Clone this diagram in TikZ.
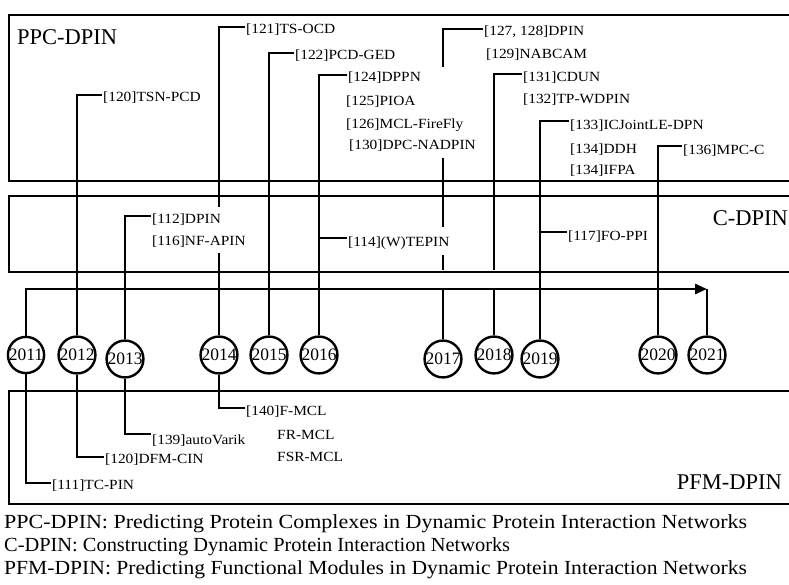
\documentclass[tikz,border=0pt]{standalone}
\usepackage{fontspec}
\usepackage{graphicx}
\setmainfont{Liberation Serif}
\usetikzlibrary{arrows.meta}
\newcommand{\lbx}[1]{\scalebox{1.1}[1]{#1}}
\newcommand{\lgx}[2]{\scalebox{#1}[1]{#2}}
\begin{document}
\begin{tikzpicture}[x=1pt,y=-1pt,
  ln/.style={line width=2.8pt},
  thinln/.style={line width=2pt},
  boxln/.style={line width=2.8pt},
  yr/.style={circle,draw,line width=2.4pt,minimum size=36pt,inner sep=0pt,font=\fontsize{17.5}{17.5}\selectfont},
  lab/.style={anchor=west,inner sep=1pt,font=\fontsize{14}{16}\selectfont},
  reg/.style={inner sep=0pt,font=\fontsize{22.5}{24}\selectfont},
  leg/.style={anchor=west,inner sep=0pt,font=\fontsize{20}{22}\selectfont}]
\useasboundingbox (0,0) rectangle (789,585);

% region boxes (open at the right, clipped by the page)
\draw[boxln] (800,15) -- (9,15) -- (9,181) -- (800,181);
\draw[boxln] (800,196) -- (9,196) -- (9,272) -- (800,272);
\draw[boxln] (800,391) -- (9,391) -- (9,504) -- (800,504);

\node[reg,anchor=west] (rppc) at (17,37) {PPC-DPIN};
\node[reg,anchor=east] (rc) at (788,218) {C-DPIN};
\node[reg,anchor=east] (rpfm) at (782,482) {PFM-DPIN};

% year circles
\node[yr] (y2011) at (26,355) {2011};
\node[yr] (y2012) at (77,355) {2012};
\node[yr] (y2013) at (125,359) {2013};
\node[yr] (y2014) at (219,355) {2014};
\node[yr] (y2015) at (269,355) {2015};
\node[yr] (y2016) at (319,355) {2016};
\node[yr] (y2017) at (443,359) {2017};
\node[yr] (y2018) at (494,355) {2018};
\node[yr] (y2019) at (540,359) {2019};
\node[yr] (y2020) at (658,355) {2020};
\node[yr] (y2021) at (707,355) {2021};

% labels: PPC-DPIN
\node[lab] (l120t) at (102,98) {\lbx{[120]TSN-PCD}};
\node[lab] (l121) at (245,30) {\lbx{[121]TS-OCD}};
\node[lab] (l122) at (294,56) {\lbx{[122]PCD-GED}};
\node[lab] (l124) at (347,78) {\lbx{[124]DPPN}};
\node[lab] (l125) at (345,102) {\lbx{[125]PIOA}};
\node[lab] (l126) at (345,125) {\lbx{[126]MCL-FireFly}};
\node[lab] (l130) at (348,146) {\lbx{[130]DPC-NADPIN}};
\node[lab] (l127) at (483,32) {\lbx{[127, 128]DPIN}};
\node[lab] (l129) at (485,55) {\lbx{[129]NABCAM}};
\node[lab] (l131) at (522,78) {\lbx{[131]CDUN}};
\node[lab] (l132) at (522,100) {\lbx{[132]TP-WDPIN}};
\node[lab] (l133) at (569,126) {\lbx{[133]ICJointLE-DPN}};
\node[lab] (l134a) at (569,150) {\lbx{[134]DDH}};
\node[lab] (l134b) at (569,171) {\lbx{[134]IFPA}};
\node[lab] (l136) at (682,151) {\lbx{[136]MPC-C}};
% labels: C-DPIN
\node[lab] (l112) at (151,220) {\lbx{[112]DPIN}};
\node[lab] (l116) at (151,242) {\lbx{[116]NF-APIN}};
\node[lab] (l114) at (347,243) {\lbx{[114](W)TEPIN}};
\node[lab] (l117) at (567,237) {\lbx{[117]FO-PPI}};
% labels: PFM-DPIN
\node[lab] (l140) at (245,412) {\lbx{[140]F-MCL}};
\node[lab] (lfr) at (276,435) {\lbx{FR-MCL}};
\node[lab] (lfsr) at (276,457) {\lbx{FSR-MCL}};
\node[lab] (l139) at (151,441) {\lbx{[139]autoVarik}};
\node[lab] (l120d) at (104,460) {\lbx{[120]DFM-CIN}};
\node[lab] (l111) at (51,486) {\lbx{[111]TC-PIN}};

% helper coordinates
\coordinate (tip) at (707,289);
\coordinate (c14a) at (219,207);
\coordinate (c14b) at (219,253);
\coordinate (c17a) at (443,67);
\coordinate (c17b) at (443,158);
\coordinate (c17c) at (443,227);
\coordinate (c17d) at (443,255);
\coordinate (c17e) at (443,270);
\coordinate (c18) at (494,270);

% timeline
\draw[ln,-{Triangle[length=12pt,width=10pt]}] (y2011.north) |- (tip);
\draw[thinln] (tip) -- (y2021.north);

% 2011
\draw[ln] (y2011.south) |- ([yshift=3pt]l111.west);
% 2012
\draw[ln] (y2012.north) |- ([yshift=3pt]l120t.west);
\draw[ln] (y2012.south) |- ([yshift=3pt]l120d.west);
% 2013
\draw[ln] (y2013.north) |- ([yshift=4pt]l112.west);
\draw[ln] (y2013.south) |- ([yshift=7pt]l139.west);
% 2014
\draw[ln] ([yshift=3pt]l121.west) -| (c14a);
\draw[ln] (c14b) -- (y2014.north);
\draw[ln] (y2014.south) |- ([yshift=4pt]l140.west);
% 2015
\draw[ln] ([yshift=3pt]l122.west) -| (y2015.north);
% 2016
\draw[ln] ([yshift=3pt]l124.west) -| (y2016.north);
\draw[thinln] (y2016.north |- l114.west) ++(0,-5) -- ([yshift=5pt]l114.west);
% 2017
\draw[ln] ([yshift=3pt]l127.west) -| (c17a);
\draw[ln] (c17b) -- (c17c);
\draw[ln] (c17d) -- (c17e);
\draw[ln] (y2017.north |- tip) -- (y2017.north);
% 2018
\draw[ln] ([yshift=4pt]l131.west) -| (c18);
\draw[ln] (y2018.north |- tip) -- (y2018.north);
% 2019
\draw[ln] ([yshift=5pt]l133.west) -| (y2019.north);
\draw[thinln] (y2019.north |- l117.west) ++(0,-5) -- ([yshift=5pt]l117.west);
% 2020
\draw[ln] ([yshift=5pt]l136.west) -| (y2020.north);

% legend
\node[leg] (lg1) at (4,524) {\lgx{1.1}{PPC-DPIN: Predicting Protein Complexes in Dynamic Protein Interaction Networks}};
\node[leg] (lg2) at (4,547) {\lgx{1.02}{C-DPIN: Constructing Dynamic Protein Interaction Networks}};
\node[leg] (lg3) at (4,570) {\lgx{1.08}{PFM-DPIN: Predicting Functional Modules in Dynamic Protein Interaction Networks}};
\end{tikzpicture}
\end{document}
